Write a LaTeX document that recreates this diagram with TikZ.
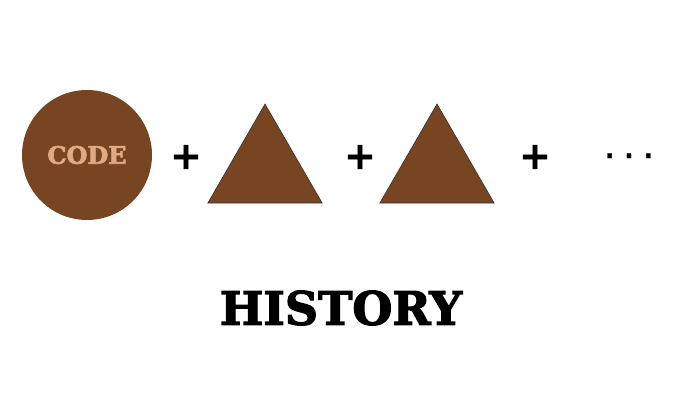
\documentclass[tikz,border=0pt]{standalone}
\usepackage{fontspec}
\newfontfamily\slabfont[FakeBold=2.6]{DejaVu Serif Bold}
\newfontfamily\plusfont[FakeBold=1.5]{DejaVu Sans Bold}
\usetikzlibrary{shapes.geometric}
\definecolor{codebrown}{RGB}{120,69,35}
\definecolor{codetan}{RGB}{226,170,130}
\tikzset{
  codedot/.style={circle, fill=codebrown, minimum size=130pt, inner sep=0pt,
    text=codetan, font=\slabfont\fontsize{24}{24}\selectfont},
  commit/.style={regular polygon, regular polygon sides=3, minimum size=132pt,
    inner sep=0pt, fill=codebrown, draw=black!80, line width=0.6pt},
  plussign/.style={font=\plusfont\fontsize{38}{38}\selectfont},
}
\begin{document}
\begin{tikzpicture}[x=1pt, y=-1pt]
    \useasboundingbox (0,0) rectangle (681,420);

    % Code and commits
    \node[codedot] (code) at (87,155) {CODE};
    \node[commit] (c1) at (265,170) {};
    \node[commit] (c2) at (437,170) {};

    % Plus signs
    \node[plussign] (p1) at (186,157) {+};
    \node[plussign] (p2) at (360,157) {+};
    \node[plussign] (p3) at (535,157) {+};
    \node[anchor=base, font=\plusfont\fontsize{23}{23}\selectfont] (more) at (629,158) {. . .};

    % Label
    \node[font=\slabfont\fontsize{46}{46}\selectfont] (history) at (341,308) {HISTORY};
\end{tikzpicture}
\end{document}
